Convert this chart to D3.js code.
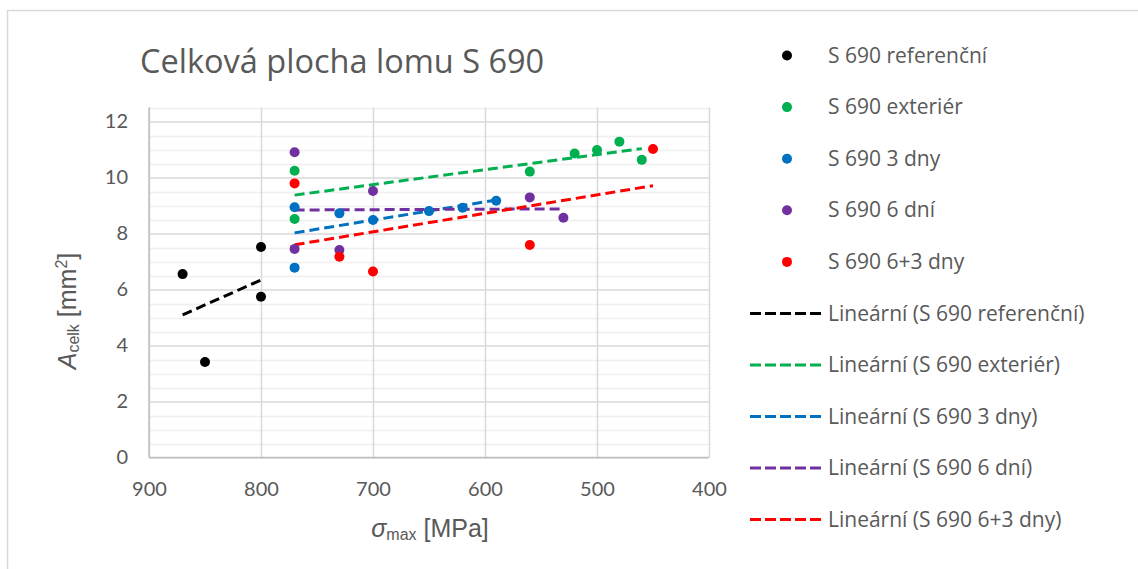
<!DOCTYPE html>
<html>
<head>
<meta charset="utf-8">
<script src="https://cdn.jsdelivr.net/npm/d3@7"></script>
<style>
  html, body { margin: 0; padding: 0; background: #ffffff; }
  svg { display: block; }
</style>
</head>
<body>
<svg id="chart" width="1138" height="569"></svg>
<script>
// ---- data ----
const seriesNames = ["S 690 referenční", "S 690 exteriér", "S 690 3 dny", "S 690 6 dní", "S 690 6+3 dny"];
const refX = [870, 850, 800, 800];
const refY = [6.55, 3.41, 7.52, 5.74];
const extX = [770, 770, 560, 520, 500, 480, 460];
const extY = [10.24, 8.52, 10.21, 10.86, 10.98, 11.28, 10.63];
const d3X = [770, 770, 730, 700, 650, 620, 590];
const d3Y = [8.94, 6.78, 8.72, 8.48, 8.80, 8.92, 9.17];
const d6X = [770, 770, 730, 700, 560, 530];
const d6Y = [10.90, 7.45, 7.41, 9.52, 9.29, 8.56];
const d63X = [770, 730, 700, 560, 450];
const d63Y = [9.79, 7.17, 6.64, 7.59, 11.02];
const xTicks = [900, 800, 700, 600, 500, 400];
const yTicks = [0, 2, 4, 6, 8, 10, 12];
const colors = ["#000000", "#00B050", "#0070C0", "#7030A0", "#FF0000"];
const titleText = "Celková plocha lomu S 690";
const trendPrefix = "Lineární";

const allX = [refX, extX, d3X, d6X, d63X];
const allY = [refY, extY, d3Y, d6Y, d63Y];

// ---- layout ----
const svg = d3.select("#chart");
const plot = { left: 149, right: 709, top: 107.5, bottom: 457.5 };
const x = d3.scaleLinear().domain([900, 400]).range([plot.left, plot.right]);
const y = d3.scaleLinear().domain([0, 12.5]).range([plot.bottom, plot.top]);
const textColor = "#595959";
const baseFont = "'Open Sans', Lato, sans-serif";
const tickFont = "Lato, 'Open Sans', sans-serif";

// outer chart border
svg.append("rect").attr("x", 7.5).attr("y", 10.5).attr("width", 1200).attr("height", 600)
  .attr("fill", "#fff").attr("stroke", "#d9d9d9").attr("stroke-width", 1.5);

// title
svg.append("text").attr("x", 140).attr("y", 73)
  .attr("font-family", baseFont).attr("font-size", 32.5).attr("fill", textColor)
  .text(titleText);

// minor horizontal gridlines
const minorY = d3.range(0, 12.51, 0.5).filter(v => Math.abs(v % 2) > 1e-6);
svg.append("g").selectAll("line").data(minorY).join("line")
  .attr("x1", plot.left).attr("x2", plot.right)
  .attr("y1", d => Math.round(y(d)) + 0.5).attr("y2", d => Math.round(y(d)) + 0.5)
  .attr("stroke", "#efefef").attr("stroke-width", 1.5);

// major gridlines via axes
const gy = svg.append("g").attr("transform", `translate(${plot.left},0)`)
  .call(d3.axisLeft(y).tickValues(yTicks).tickSize(-(plot.right - plot.left)).tickFormat(d3.format("d")));
gy.select(".domain").remove();
gy.selectAll(".tick line").attr("stroke", "#d9d9d9").attr("stroke-width", 1.5);
gy.selectAll(".tick text").attr("x", -21).attr("font-family", tickFont).attr("font-size", 20).attr("fill", textColor);

const gx = svg.append("g").attr("transform", `translate(0,${plot.bottom})`)
  .call(d3.axisBottom(x).tickValues(xTicks).tickSize(-(plot.bottom - plot.top)).tickFormat(d3.format("d")));
gx.select(".domain").remove();
gx.selectAll(".tick line").attr("stroke", "#d9d9d9").attr("stroke-width", 1.5);
gx.selectAll(".tick text").attr("y", 24).attr("font-family", tickFont).attr("font-size", 20).attr("fill", textColor);

// axis lines
svg.append("line").attr("x1", plot.left).attr("x2", plot.left).attr("y1", plot.top).attr("y2", plot.bottom)
  .attr("stroke", "#bfbfbf").attr("stroke-width", 1.5);
svg.append("line").attr("x1", plot.left).attr("x2", plot.right).attr("y1", plot.bottom).attr("y2", plot.bottom)
  .attr("stroke", "#bfbfbf").attr("stroke-width", 1.5);

// axis titles
const xt = svg.append("text").attr("x", 430).attr("y", 537).attr("text-anchor", "middle")
  .attr("font-family", "'Liberation Sans', Arial, sans-serif").attr("font-size", 25).attr("fill", textColor);
xt.append("tspan").attr("font-style", "italic").text("σ");
xt.append("tspan").attr("font-size", 16).attr("dy", 3).text("max");
xt.append("tspan").attr("dy", -3).text(" [MPa]");

const yt = svg.append("text").attr("transform", "translate(76,311) rotate(-90)").attr("text-anchor", "middle")
  .attr("font-family", "'Liberation Sans', Arial, sans-serif").attr("font-size", 25).attr("fill", textColor);
yt.append("tspan").attr("font-style", "italic").text("A");
yt.append("tspan").attr("font-size", 16).attr("dy", 3).text("celk");
yt.append("tspan").attr("dy", -3).text(" [mm");
yt.append("tspan").attr("font-size", 16).attr("dy", -9).text("2");
yt.append("tspan").attr("dy", 9).text("]");

// trendlines (least squares)
function fit(xs, ys) {
  const mx = d3.mean(xs), my = d3.mean(ys);
  let sxy = 0, sxx = 0;
  xs.forEach((v, i) => { sxy += (v - mx) * (ys[i] - my); sxx += (v - mx) * (v - mx); });
  const b = sxy / sxx, a = my - b * mx;
  return v => a + b * v;
}
const trends = svg.append("g");
allX.forEach((xs, i) => {
  const f = fit(xs, allY[i]);
  const x0 = d3.max(xs), x1 = d3.min(xs);
  trends.append("line")
    .attr("x1", x(x0)).attr("y1", y(f(x0))).attr("x2", x(x1)).attr("y2", y(f(x1)))
    .attr("stroke", colors[i]).attr("stroke-width", 3).attr("stroke-dasharray", "10,5");
});

// points
allX.forEach((xs, i) => {
  svg.append("g").selectAll("circle").data(xs.map((v, j) => [v, allY[i][j]])).join("circle")
    .attr("cx", d => x(d[0])).attr("cy", d => y(d[1])).attr("r", 5).attr("fill", colors[i]);
});

// legend
const leg = svg.append("g");
seriesNames.forEach((name, i) => {
  const cy = 55.5 + i * 51.6;
  leg.append("circle").attr("cx", 787).attr("cy", cy).attr("r", 5).attr("fill", colors[i]);
  leg.append("text").attr("x", 828).attr("y", cy + 7).attr("font-family", baseFont).attr("font-size", 21)
    .attr("fill", textColor).text(name);
});
seriesNames.forEach((name, i) => {
  const cy = 313.5 + i * 51.5;
  leg.append("line").attr("x1", 750).attr("x2", 822).attr("y1", cy).attr("y2", cy)
    .attr("stroke", colors[i]).attr("stroke-width", 3).attr("stroke-dasharray", "11,4");
  leg.append("text").attr("x", 828).attr("y", cy + 7).attr("font-family", baseFont).attr("font-size", 21)
    .attr("fill", textColor).text(`${trendPrefix} (${name})`);
});
</script>
</body>
</html>
